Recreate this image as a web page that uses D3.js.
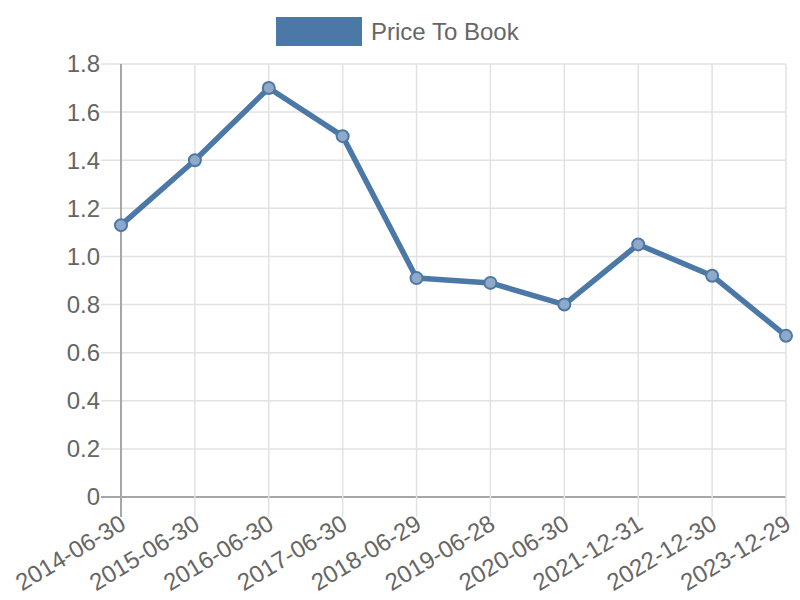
<!DOCTYPE html>
<html>
<head>
<meta charset="utf-8">
<script src="https://cdn.jsdelivr.net/npm/d3@7"></script>
<style>
  html, body { margin: 0; padding: 0; background: #fff; }
  svg { display: block; font-family: "Liberation Sans", Arial, sans-serif; }
</style>
</head>
<body>
<svg id="chart" width="800" height="600"></svg>
<script>
const categories = ["2014-06-30","2015-06-30","2016-06-30","2017-06-30","2018-06-29","2019-06-28","2020-06-30","2021-12-31","2022-12-30","2023-12-29"];
const values = [1.13, 1.40, 1.70, 1.50, 0.91, 0.89, 0.80, 1.05, 0.92, 0.67];
const yTicks = [0, 0.2, 0.4, 0.6, 0.8, 1.0, 1.2, 1.4, 1.6, 1.8];
const seriesName = "Price To Book";

const color = "#4c78a8";
const svg = d3.select("#chart");
const mLeft = 121, mRight = 786, mTop = 64, mBottom = 497, tickLen = 20;

const x = d3.scalePoint().domain(categories).range([mLeft, mRight]);
const y = d3.scaleLinear().domain([0, 1.8]).range([mBottom, mTop]);

// grid
const g = svg.append("g");
g.selectAll(".hg").data(yTicks).enter().append("line")
  .attr("x1", mLeft - tickLen).attr("x2", mRight)
  .attr("y1", d => y(d)).attr("y2", d => y(d))
  .attr("stroke", d => d === 0 ? "#a6a6a6" : "#e2e2e2").attr("stroke-width", d => d === 0 ? 2 : 1.5);
g.selectAll(".vg").data(categories).enter().append("line")
  .attr("x1", d => x(d)).attr("x2", d => x(d))
  .attr("y1", mTop).attr("y2", mBottom + tickLen)
  .attr("stroke", (d, i) => i === 0 ? "#a6a6a6" : "#e2e2e2").attr("stroke-width", (d, i) => i === 0 ? 2 : 1.5);

// y labels
g.selectAll(".yl").data(yTicks).enter().append("text")
  .attr("x", mLeft - tickLen - 1).attr("y", d => y(d)).attr("dy", "0.35em")
  .attr("text-anchor", "end").attr("fill", "#666").attr("font-size", 24)
  .text(d => d === 0 ? "0" : d3.format(".1f")(d));

// x labels
g.selectAll(".xl").data(categories).enter().append("text")
  .attr("transform", d => `translate(${x(d) + 2},${mBottom + 24}) rotate(-31)`)
  .attr("text-anchor", "end").attr("dy", "0.35em").attr("fill", "#666").attr("font-size", 24)
  .text(d => d);

// line
const line = d3.line().x((d, i) => x(categories[i])).y(d => y(d));
svg.append("path").datum(values).attr("d", line)
  .attr("fill", "none").attr("stroke", color).attr("stroke-width", 5.5).attr("stroke-linejoin", "round");

svg.selectAll(".pt").data(values).enter().append("circle")
  .attr("cx", (d, i) => x(categories[i])).attr("cy", d => y(d)).attr("r", 6)
  .attr("fill", "#8fa9c8").attr("stroke", color).attr("stroke-width", 2);

// legend
svg.append("rect").attr("x", 276).attr("y", 17).attr("width", 86).attr("height", 29).attr("fill", color);
svg.append("text").attr("x", 371).attr("y", 32).attr("dy", "0.35em")
  .attr("fill", "#666").attr("font-size", 24).text(seriesName);
</script>
</body>
</html>
